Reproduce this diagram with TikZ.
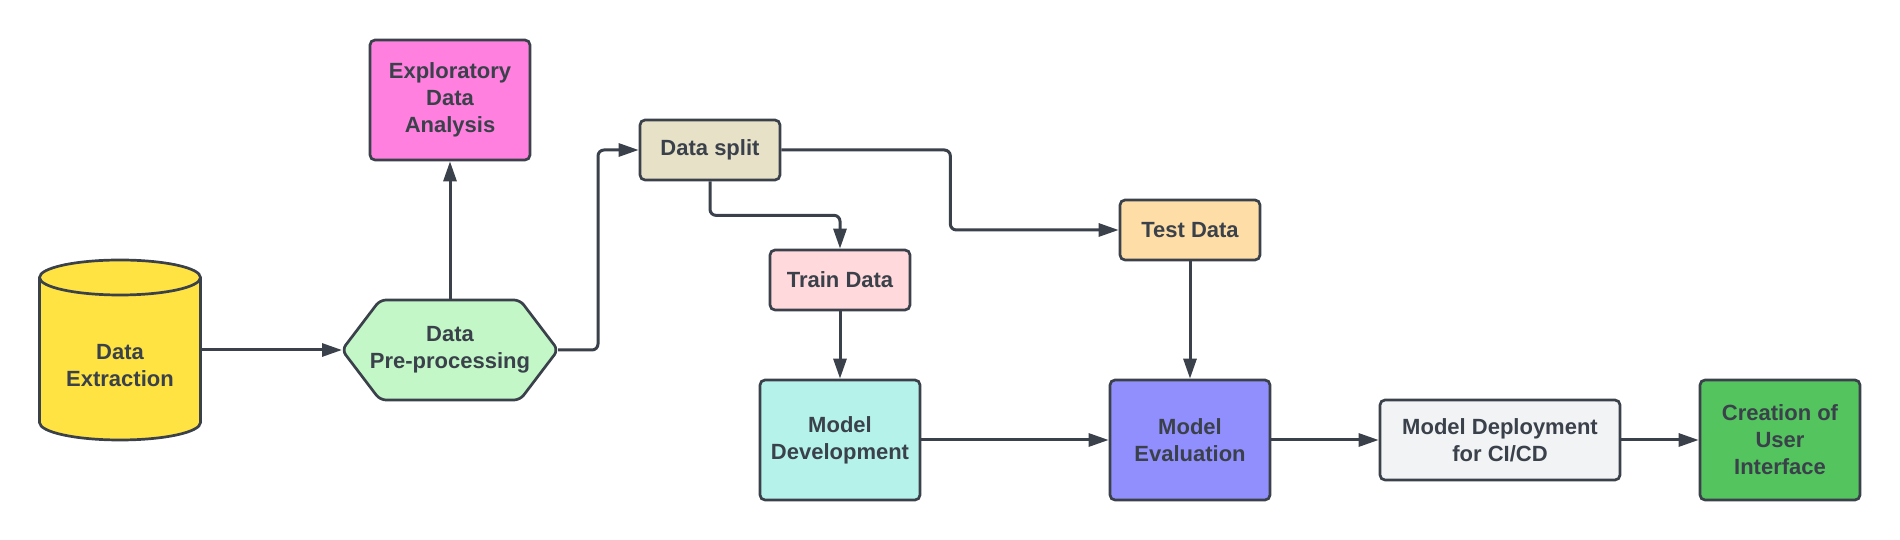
\documentclass[tikz,border=0pt]{standalone}
\usepackage{fontspec}
\setmainfont{Liberation Sans}
\usetikzlibrary{arrows.meta}
\pgfdeclarelayer{background}
\pgfsetlayers{background,main}
\definecolor{ink}{HTML}{3A414A}
\definecolor{cylfill}{HTML}{FFE342}
\definecolor{edafill}{HTML}{FF80DF}
\definecolor{hexfill}{HTML}{C3F7C8}
\definecolor{splitfill}{HTML}{E7E1C8}
\definecolor{trainfill}{HTML}{FFD9DC}
\definecolor{testfill}{HTML}{FFDDA6}
\definecolor{devfill}{HTML}{B5F3EA}
\definecolor{evalfill}{HTML}{918EFE}
\definecolor{deployfill}{HTML}{F2F3F5}
\definecolor{uifill}{HTML}{54C45E}
\begin{document}
\begin{tikzpicture}[x=1pt,y=1pt,
  every node/.style={font=\fontsize{22}{27}\selectfont\bfseries, text=ink, align=center},
  box/.style={draw=ink, line width=2.7pt, rounded corners=5pt, inner sep=0pt},
  shapebox/.style={draw=none, inner sep=0pt, outer sep=0pt},
  conn/.style={draw=ink, line width=3pt, -{Triangle[length=20pt,width=13pt]}, rounded corners=6pt},
  outline/.style={draw=ink, line width=2.7pt}]
\useasboundingbox (0,0) rectangle (1900,540);

% nodes
\node[shapebox, minimum width=161pt, minimum height=180pt] (ext) at (120,190) {};
\node (extlbl) at (120,174) {Data\\Extraction};
\node[shapebox, minimum width=216pt, minimum height=100pt] (pre) at (450,190) {Data\\Pre-processing};
\node[box, fill=edafill, minimum width=160pt, minimum height=120pt] (eda) at (450,440) {Exploratory\\Data\\Analysis};
\node[box, fill=splitfill, minimum width=140pt, minimum height=60pt] (split) at (710,390) {Data split};
\node[box, fill=trainfill, minimum width=140pt, minimum height=60pt] (train) at (840,260) {Train Data};
\node[box, fill=testfill, minimum width=140pt, minimum height=60pt] (test) at (1190,310) {Test Data};
\node[box, fill=devfill, minimum width=160pt, minimum height=120pt] (dev) at (840,100) {Model\\Development};
\node[box, fill=evalfill, minimum width=160pt, minimum height=120pt] (eval) at (1190,100) {Model\\Evaluation};
\node[box, fill=deployfill, minimum width=240pt, minimum height=80pt] (deploy) at (1500,100) {Model Deployment\\for CI/CD};
\node[box, fill=uifill, minimum width=160pt, minimum height=120pt] (ui) at (1780,100) {Creation of\\User\\Interface};

% shapes behind text
\begin{pgfonlayer}{background}
\fill[white] (0,0) rectangle (1900,540);
\filldraw[outline, fill=cylfill]
  ([yshift=-17.5pt]ext.north west) -- ([yshift=17.5pt]ext.south west)
  arc[start angle=180, end angle=360, x radius=80.5pt, y radius=17.5pt]
  -- ([yshift=-17.5pt]ext.north east)
  arc[start angle=0, end angle=180, x radius=80.5pt, y radius=17.5pt] -- cycle;
\draw[outline] ([yshift=-17.5pt]ext.north west)
  arc[start angle=180, end angle=360, x radius=80.5pt, y radius=17.5pt];
\filldraw[outline, fill=hexfill, rounded corners=6pt]
  ([xshift=38pt]pre.north west) -- ([xshift=-38pt]pre.north east) -- (pre.east)
  -- ([xshift=-38pt]pre.south east) -- ([xshift=38pt]pre.south west) -- (pre.west) -- cycle;
\end{pgfonlayer}

% connectors
\draw[conn] (ext.east) -- (pre.west);
\draw[conn] (pre.north) -- (eda.south);
\draw[conn] (pre.east) -- ++(40,0) |- (split.west);
\draw[conn] (split.south) -- ++(0,-34) -| (train.north);
\draw[conn] (split.east) -- ++(169,0) |- (test.west);
\draw[conn] (train.south) -- (dev.north);
\draw[conn] (test.south) -- (eval.north);
\draw[conn] (dev.east) -- (eval.west);
\draw[conn] (eval.east) -- (deploy.west);
\draw[conn] (deploy.east) -- (ui.west);
\end{tikzpicture}
\end{document}
